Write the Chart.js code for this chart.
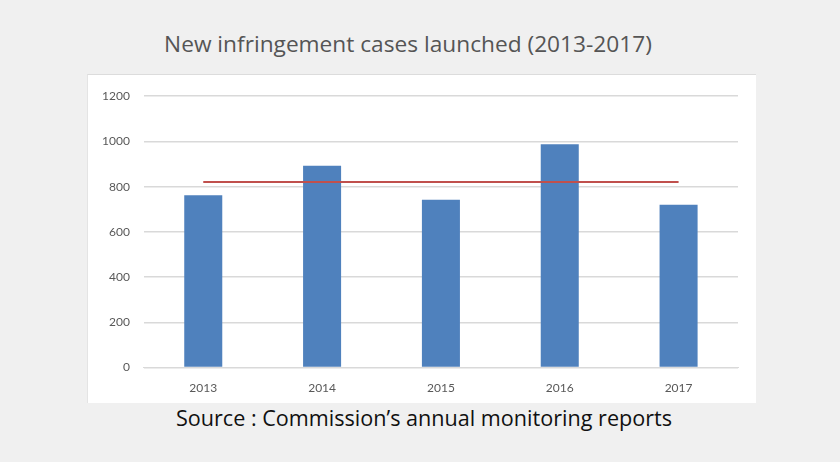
<!DOCTYPE html>
<html>
<head>
<meta charset="utf-8">
<script src="https://cdn.jsdelivr.net/npm/chart.js@4"></script>
<style>
    body { margin: 0; background: #f0f0f0; width: 840px; height: 462px; position: relative; overflow: hidden; }
    #title { position: absolute; left: -12px; width: 840px; top: 28px; text-align: center;
             font-family: "Open Sans", sans-serif; font-size: 22.7px; color: #555; }
    #panel { position: absolute; left: 87px; top: 74px; width: 668px; height: 328px;
             background: #fff; border-top: 1px solid #dcdcdc; border-left: 1px solid #e4e4e4; }
    #source { position: absolute; left: 4px; width: 840px; top: 403px; text-align: center;
              font-family: "Open Sans", sans-serif; font-size: 21.6px; color: #111; }
</style>
</head>
<body>
<div id="title">New infringement cases launched (2013-2017)</div>
<div id="panel"><canvas id="chart" width="668" height="328"></canvas></div>
<div id="source">Source : Commission’s annual monitoring reports</div>
<script>
// Values
const years = ['2013', '2014', '2015', '2016', '2017'];
const cases = [762, 893, 742, 987, 720];
const averageLine = [821, 821, 821, 821, 821];
const yTicks = [0, 200, 400, 600, 800, 1000, 1200];

function createCasesChart() {
    const ctx = document.getElementById('chart').getContext('2d');
    new Chart(ctx, {
        type: 'bar',
        data: {
            labels: years,
            datasets: [
                {
                    type: 'line',
                    label: 'Average',
                    data: averageLine,
                    borderColor: '#c0504d',
                    borderWidth: 2,
                    pointRadius: 0,
                    order: 0
                },
                {
                    label: 'Cases',
                    data: cases,
                    backgroundColor: '#4f81bd',
                    categoryPercentage: 1,
                    barPercentage: 0.32,
                    order: 1
                }
            ]
        },
        options: {
            responsive: false,
            animation: false,
            layout: { padding: { left: 0, right: 18, top: 20, bottom: 3 } },
            plugins: {
                legend: { display: false },
                tooltip: { enabled: false }
            },
            scales: {
                x: {
                    grid: { display: false },
                    border: { color: '#d9d9d9', width: 1 },
                    ticks: { color: '#595959', font: { family: 'Lato', size: 12 }, padding: 5 }
                },
                y: {
                    min: 0,
                    max: 1200,
                    afterBuildTicks: axis => { axis.ticks = yTicks.map(v => ({ value: v })); },
                    grid: { color: '#d9d9d9', lineWidth: 1.5, drawTicks: false },
                    border: { display: false },
                    ticks: {
                        color: '#595959',
                        font: { family: 'Lato', size: 12 },
                        padding: 14,
                        callback: value => String(value)
                    }
                }
            }
        }
    });
}

createCasesChart();
</script>
</body>
</html>
